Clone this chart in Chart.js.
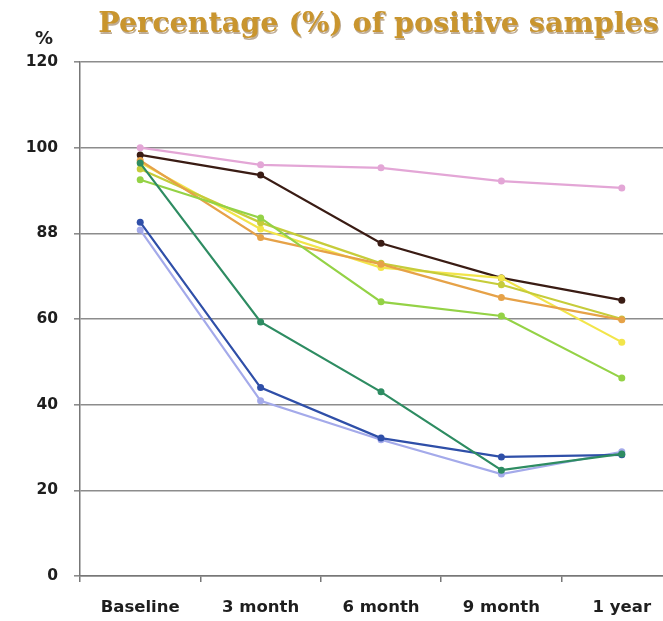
<!DOCTYPE html>
<html>
<head>
<meta charset="utf-8">
<script src="https://cdn.jsdelivr.net/npm/chart.js@4/dist/chart.umd.min.js"></script>
<style>
  html, body { margin: 0; padding: 0; background: #ffffff; overflow: hidden; }
  #wrap { position: relative; width: 700px; height: 621px; }
</style>
</head>
<body>
<div id="wrap"><canvas id="c" width="700" height="621"></canvas></div>
<script>
const categories = ['Baseline', '3 month', '6 month', '9 month', '1 year'];
const yTickLabels = ['0', '20', '40', '60', '88', '100', '120'];
const titleText = 'Percentage (%) of positive samples';

const pinkValues     = [100, 96, 95.3, 92.2, 90.6];
const brownValues    = [98.3, 93.6, 77.7, 69.6, 64.4];
const tealValues     = [96.4, 59.3, 43, 24.7, 28.5];
const blueValues     = [82.6, 44, 32.2, 27.8, 28.3];
const lavenderValues = [80.8, 40.9, 31.8, 23.8, 29];
const orangeValues   = [97, 79, 72.8, 65, 59.8];
const yellowValues   = [96.5, 81, 72, 69.6, 54.6];
const oliveValues    = [95, 82.5, 73, 68, 60];
const limeValues     = [92.5, 83.6, 64, 60.7, 46.2];

function ds(data, color) {
  return {
    data: data, borderColor: color, backgroundColor: color,
    borderWidth: 2.2, pointRadius: 3.5, pointHoverRadius: 3.5,
    pointBorderWidth: 0, tension: 0
  };
}

const overlay = {
  id: 'overlay',
  afterDraw(chart) {
    const ctx = chart.ctx;
    ctx.save();
    // fit the title between x=97 and x=660
    let size = 23;
    ctx.font = 'bold ' + size + 'px "DejaVu Serif", serif';
    const w = ctx.measureText(titleText).width;
    size = size * 561 / w;
    ctx.font = 'bold ' + size.toFixed(1) + 'px "DejaVu Serif", serif';
    ctx.textAlign = 'center';
    ctx.textBaseline = 'middle';
    ctx.fillStyle = 'rgba(110,70,20,0.45)';
    ctx.fillText(titleText, 379.5, 26.5);
    ctx.fillStyle = '#c9952e';
    ctx.fillText(titleText, 378.5, 25);
    ctx.font = 'bold 18px "DejaVu Sans", sans-serif';
    ctx.fillStyle = '#222';
    ctx.fillText('%', 44, 39);
    ctx.restore();
  }
};

new Chart(document.getElementById('c'), {
  type: 'line',
  data: {
    labels: categories,
    datasets: [
      ds(pinkValues, '#e3a6d6'),
      ds(tealValues, '#2e8c62'),
      ds(blueValues, '#2f4fa8'),
      ds(lavenderValues, '#a4aaea'),
      ds(limeValues, '#94d246'),
      ds(orangeValues, '#e6a248'),
      ds(oliveValues, '#c6cc3a'),
      ds(yellowValues, '#f2e54a'),
      ds(brownValues, '#3a1c14')
    ]
  },
  options: {
    responsive: false,
    animation: false,
    layout: { padding: { top: 62, left: 0, right: 18, bottom: 0 } },
    plugins: { legend: { display: false }, title: { display: false }, tooltip: { enabled: false } },
    scales: {
      x: {
        offset: true,
        grid: { offset: true, drawOnChartArea: false, drawTicks: true, tickLength: 6, color: '#777', lineWidth: 1.5 },
        border: { color: '#777', width: 1.5 },
        ticks: { color: '#1e1e1e', padding: 16, font: { family: '"DejaVu Sans", sans-serif', size: 16.5, weight: 'bold' }, maxRotation: 0 },
        afterFit(s) { s.height = 45; }
      },
      y: {
        min: 0, max: 120,
        grid: { color: '#8c8c8c', lineWidth: 1.6, tickLength: 6, drawTicks: true },
        border: { color: '#777', width: 1.5 },
        ticks: {
          stepSize: 20, color: '#1e1e1e', padding: 16,
          font: { family: '"DejaVu Sans", sans-serif', size: 15.5, weight: 'bold' },
          callback: (v, i) => yTickLabels[i]
        },
        afterFit(s) { s.width = 80; }
      }
    }
  },
  plugins: [overlay]
});
</script>
</body>
</html>
